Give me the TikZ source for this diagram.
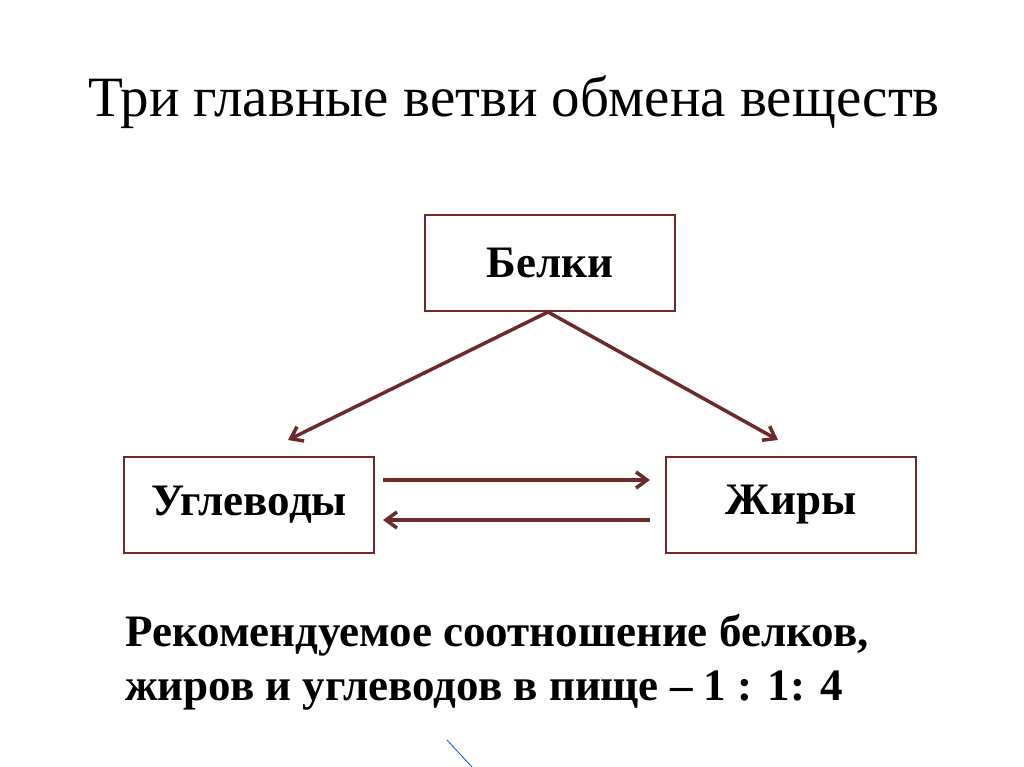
\documentclass[tikz,border=0pt]{standalone}
\usepackage{fontspec}
\usetikzlibrary{arrows.meta}
\setmainfont{Liberation Serif}
\definecolor{br}{HTML}{6E2A2A}
\begin{document}
\begin{tikzpicture}[x=1pt,y=-1pt,
 box/.style={draw=br,line width=2.5pt,minimum width=250pt,minimum height=96pt,font=\fontsize{45}{50}\selectfont\bfseries},
 arr/.style={draw=br,line width=3.5pt,->,>={Straight Barb[length=11pt,width=16pt]}}]
\useasboundingbox (0,0) rectangle (1024,767);
\fill[white] (0,0) rectangle (1024,767);
\node (t) at (514,102) {\fontsize{57}{62}\selectfont Три главные ветви обмена веществ};
\node[box] (b) at (550,263) {Белки};
\node[box] (u) at (249,505) {Углеводы};
\node[box] (z) at (791,505) {Жиры};
\coordinate (bs) at (548,312);
\coordinate (ua) at (288,440);
\coordinate (za) at (778,440);
\draw[arr] (bs) -- (ua);
\draw[arr] (bs) -- (za);
\coordinate (h1) at (383,480); \coordinate (h2) at (650,480);
\coordinate (h3) at (650,520); \coordinate (h4) at (383,520);
\draw[arr] (h1) -- (h2);
\draw[arr] (h3) -- (h4);
\node[anchor=north west,align=left,font=\fontsize{45}{54}\selectfont\bfseries,inner sep=0pt] (r) at (125,614) {Рекомендуемое соотношение белков,\\жиров и углеводов в пище -- 1 : 1: 4};
\coordinate (l1) at (447,740); \coordinate (l2) at (472,767);
\draw[blue!70!cyan,line width=0.8pt] (l1) -- (l2);
\end{tikzpicture}
\end{document}
